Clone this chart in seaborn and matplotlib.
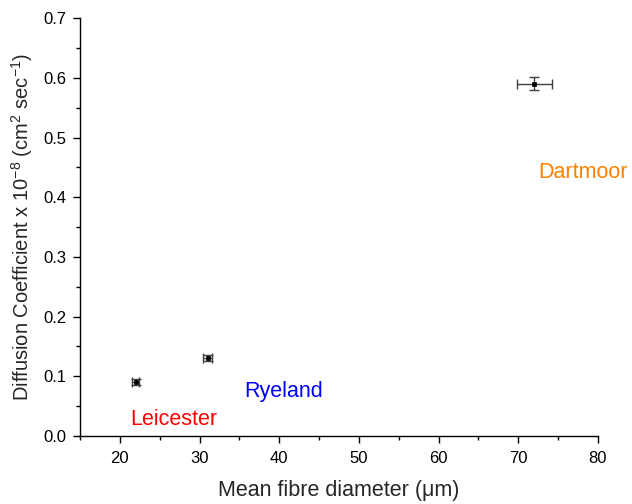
import matplotlib
matplotlib.use("Agg")
import matplotlib.pyplot as plt
import seaborn as sns
import pandas as pd
from matplotlib.ticker import MultipleLocator

sns.set_style("white")
plt.rcParams['font.family'] = ['Liberation Sans', 'DejaVu Sans']
plt.rcParams['mathtext.fontset'] = 'custom'
plt.rcParams['mathtext.rm'] = 'Liberation Sans'
plt.rcParams['mathtext.it'] = 'Liberation Sans'

breeds = ["Leicester", "Ryeland", "Dartmoor"]
diameter = [22.0, 31.0, 72.0]
diameter_err = [0.45, 0.6, 2.2]
diffusion = [0.09, 0.13, 0.59]
diffusion_err = [0.005, 0.005, 0.011]
label_colors = ["#ff0000", "#0000ff", "#ff8000"]
label_x = [26.8, 40.5, 78.1]
label_y = [0.027, 0.075, 0.442]

df = pd.DataFrame({"breed": breeds, "d": diameter, "D": diffusion})

fig = plt.figure(figsize=(6.32, 5.04), dpi=100)
ax = fig.add_axes([0.1266, 0.135, 0.8196, 0.829])

ax.errorbar(diameter, diffusion, xerr=diameter_err, yerr=diffusion_err,
            fmt="none", ecolor="#404040", elinewidth=1.0, capsize=3.5,
            capthick=1.0, zorder=2)
sns.scatterplot(data=df, x="d", y="D", ax=ax, marker="s", s=12,
                color="black", edgecolor="black", linewidth=0.5, zorder=3,
                legend=False)

for name, c, lx, ly in zip(breeds, label_colors, label_x, label_y):
    t = ax.text(lx, ly, name, color=c, fontsize=15.5, ha="center", va="center")
    t.set_clip_on(False)

ax.set_xlim(15, 80)
ax.set_ylim(0, 0.7)
ax.xaxis.set_minor_locator(MultipleLocator(5))
ax.yaxis.set_major_locator(MultipleLocator(0.1))
ax.yaxis.set_minor_locator(MultipleLocator(0.05))
ax.set_xticks([20, 30, 40, 50, 60, 70, 80])
ax.yaxis.set_major_formatter(plt.FuncFormatter(lambda v, p: f"{v:.1f}"))

for s in ["top", "right"]:
    ax.spines[s].set_visible(False)
for s in ["left", "bottom"]:
    ax.spines[s].set_color("black")
    ax.spines[s].set_linewidth(1.0)

ax.tick_params(which="major", direction="out", length=5, width=1, colors="black",
               labelsize=12, bottom=True, left=True)
ax.tick_params(which="minor", direction="out", length=3, width=1, colors="black",
               bottom=True, left=True)
ax.tick_params(axis="x", pad=6)
ax.tick_params(axis="y", pad=5)

ax.set_xlabel("Mean fibre diameter (\u03bcm)", fontsize=15.5, labelpad=10)
ax.set_ylabel(r"Diffusion Coefficient x 10$^{-8}$ (cm$^{2}$ sec$^{-1}$)", fontsize=14.5, labelpad=6)

fig.savefig("out.png", dpi=100)
